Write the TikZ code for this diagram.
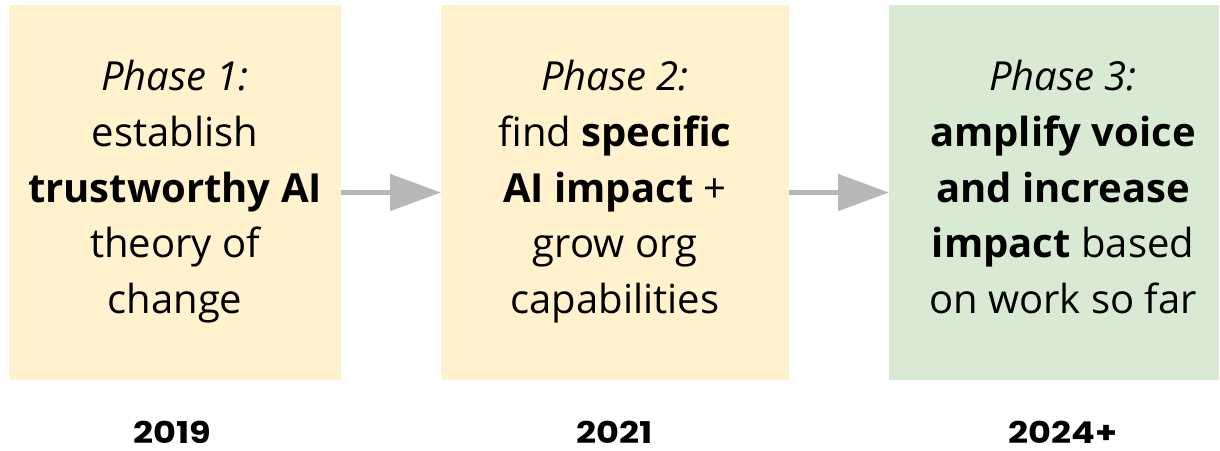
\documentclass[tikz,border=0pt]{standalone}
\usepackage{fontspec}
\setmainfont{Open Sans}
\newfontfamily\yearfont[FakeStretch=1.17]{Poppins}
\usetikzlibrary{arrows.meta}

\definecolor{phaseyellow}{HTML}{FFF2CC}
\definecolor{phasegreen}{HTML}{D9EAD3}
\definecolor{arrowgray}{HTML}{B7B7B7}

\begin{document}
\begin{tikzpicture}[x=1pt,y=-1pt,
  phasebox/.style={draw=none,inner sep=0pt,outer sep=0pt},
  phasetext/.style={anchor=north,align=center,inner sep=0pt,
    font=\fontsize{40}{55.8}\selectfont},
  yeartext/.style={anchor=base,inner sep=0pt,
    font=\yearfont\bfseries\fontsize{30}{32}\selectfont},
  flow/.style={draw=arrowgray,line width=5pt,
    -{Triangle[length=51pt,width=36pt]}}]
\useasboundingbox (0,0) rectangle (1220,450);

% the three phase panels
\fill[phaseyellow] (9,5) rectangle (341,380);
\fill[phaseyellow] (441,5) rectangle (789,380);
\fill[phasegreen] (889,5) rectangle (1219,380);
\node[phasebox,minimum width=332pt,minimum height=375pt] (p1) at (175,192.5) {};
\node[phasebox,minimum width=348pt,minimum height=375pt] (p2) at (615,192.5) {};
\node[phasebox,minimum width=330pt,minimum height=375pt] (p3) at (1054,192.5) {};

% panel texts
\node[phasetext] (t1) at (175,60)
  {\textit{Phase 1:}\\ establish\\ \textbf{trustworthy AI}\\ theory of\\ change};
\node[phasetext] (t2) at (615,60)
  {\textit{Phase 2:}\\ find \textbf{specific}\\ \textbf{AI impact} +\\ grow org\\ capabilities};
\node[phasetext] (t3) at (1063,60)
  {\textit{Phase 3:}\\ \textbf{amplify voice}\\ \textbf{and increase}\\ \textbf{impact} based\\ on work so far};

% connectors between phases
\draw[flow] (p1.east) -- (p2.west);
\draw[flow] (p2.east) -- (p3.west);

% years
\node[yeartext] (y1) at (172.5,443) {2019};
\node[yeartext] (y2) at (615,443) {2021};
\node[yeartext] (y3) at (1063,443) {2024+};
\end{tikzpicture}
\end{document}
